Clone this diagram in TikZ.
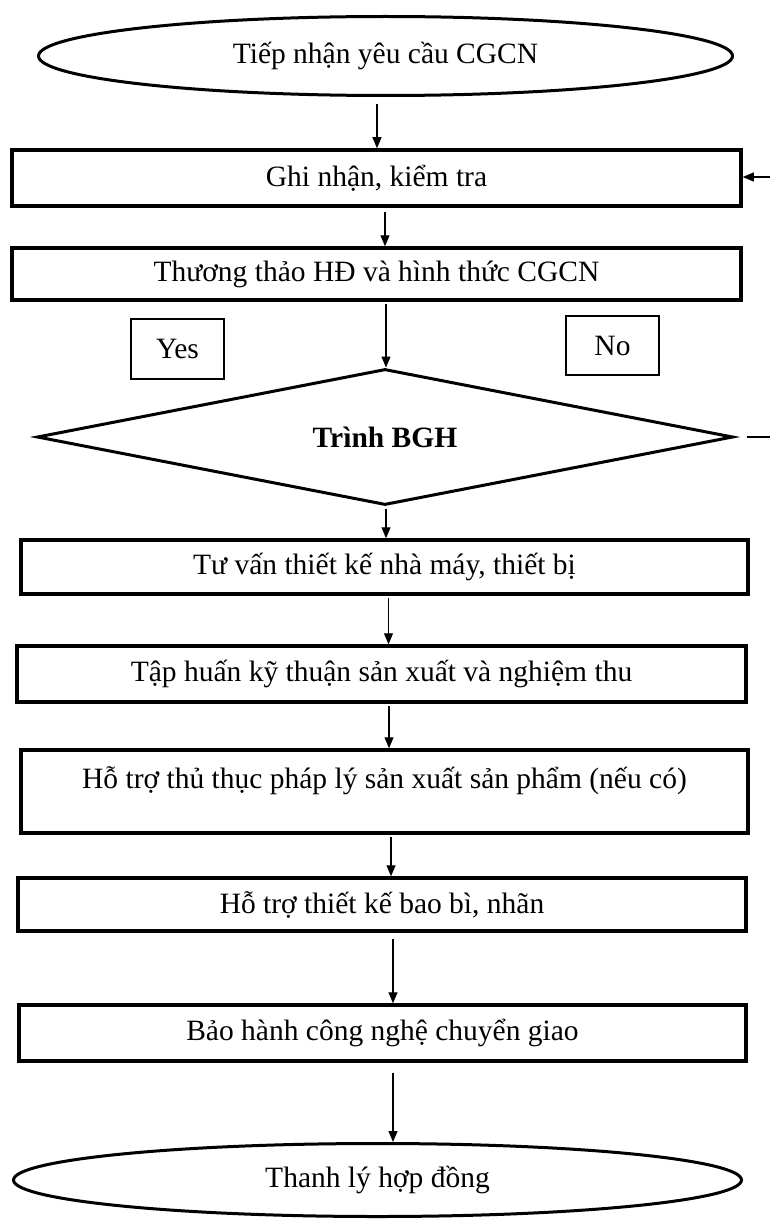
\documentclass[tikz,border=0pt]{standalone}
\usepackage{fontspec}
\setmainfont{Liberation Serif}
\usetikzlibrary{shapes.geometric,arrows.meta,calc}
\begin{document}
\begin{tikzpicture}[x=1pt,y=-1pt,
  every node/.style={font=\fontsize{29.5}{35}\selectfont, inner sep=0pt},
  stepbox/.style={draw, line width=3.5pt, rectangle},
  termbox/.style={draw, line width=3pt, ellipse},
  decbox/.style={draw, line width=3pt, diamond, aspect=5.1},
  tagbox/.style={draw, line width=1.2pt, rectangle},
  arr/.style={line width=1.2pt, -{Triangle[length=11pt,width=9pt]}},
  plainline/.style={line width=1.2pt}
]
\useasboundingbox (0,0) rectangle (770,1220);
\fill[white] (0,0) rectangle (770,1220);

\node[termbox, minimum width=694pt, minimum height=79pt] (e1) at (385.5,56) {Tiếp nhận yêu cầu CGCN};
\node[stepbox, minimum width=729pt, minimum height=56pt] (b1) at (376.5,178) {Ghi nhận, kiểm tra};
\node[stepbox, minimum width=729pt, minimum height=52pt] (b2) at (376.5,274) {Thương thảo HĐ và hình thức CGCN};
\node[tagbox, minimum width=93pt, minimum height=60pt] (yes) at (177.5,349) {Yes};
\node[tagbox, minimum width=93pt, minimum height=59pt] (no) at (612.5,345.5) {No};
\node[decbox, minimum width=696pt, minimum height=136pt] (d) at (385,437) {\bfseries Trình BGH};
\node[stepbox, minimum width=727pt, minimum height=54pt] (b3) at (384.5,567) {Tư vấn thiết kế nhà máy, thiết bị};
\node[stepbox, minimum width=729pt, minimum height=56pt] (b4) at (381.5,674) {Tập huấn kỹ thuận sản xuất và nghiệm thu};
\node[stepbox, minimum width=727pt, minimum height=83pt,
  label={[yshift=11pt]center:Hỗ trợ thủ thục pháp lý sản xuất sản phẩm (nếu có)}] (b5) at (384.5,791.5) {};
\node[stepbox, minimum width=728pt, minimum height=53pt] (b6) at (382,904.5) {Hỗ trợ thiết kế bao bì, nhãn};
\node[stepbox, minimum width=727pt, minimum height=56pt] (b7) at (382.5,1033) {Bảo hành công nghệ chuyển giao};
\node[termbox, minimum width=728pt, minimum height=73pt] (e2) at (377.5,1180) {Thanh lý hợp đồng};

\coordinate (rin) at (770,177);
\coordinate (dout) at (770,436);

\draw[arr, shorten <=7pt] ([xshift=-8.5pt]e1.south) -- ([xshift=-8.5pt]e1.south |- b1.north);
\draw[arr, shorten <=4pt] ([xshift=8.5pt]b1.south) -- ([xshift=8.5pt]b1.south |- b2.north);
\draw[arr, shorten <=2pt] ([xshift=9.5pt]b2.south) -- ([xshift=9.5pt]b2.south |- d.north);
\draw[arr, shorten <=2pt] ([xshift=1pt]d.south) -- ([xshift=1pt]d.south |- b3.north);
\draw[arr, shorten <=2pt] ([xshift=4pt]b3.south) -- ([xshift=4pt]b3.south |- b4.north);
\draw[arr, shorten <=2pt] ([xshift=7.5pt]b4.south) -- ([xshift=7.5pt]b4.south |- b5.north);
\draw[arr, shorten <=2pt] ([xshift=6.5pt]b5.south) -- ([xshift=6.5pt]b5.south |- b6.north);
\draw[arr, shorten <=6pt] ([xshift=11pt]b6.south) -- ([xshift=11pt]b6.south |- b7.north);
\draw[arr, shorten <=10pt] ([xshift=10.5pt]b7.south) -- ([xshift=10.5pt]b7.south |- e2.north);
\draw[arr] (rin) -- (rin -| b1.east);
\draw[plainline, shorten <=12pt] (d.east) -- (d.east -| dout);
\end{tikzpicture}
\end{document}
